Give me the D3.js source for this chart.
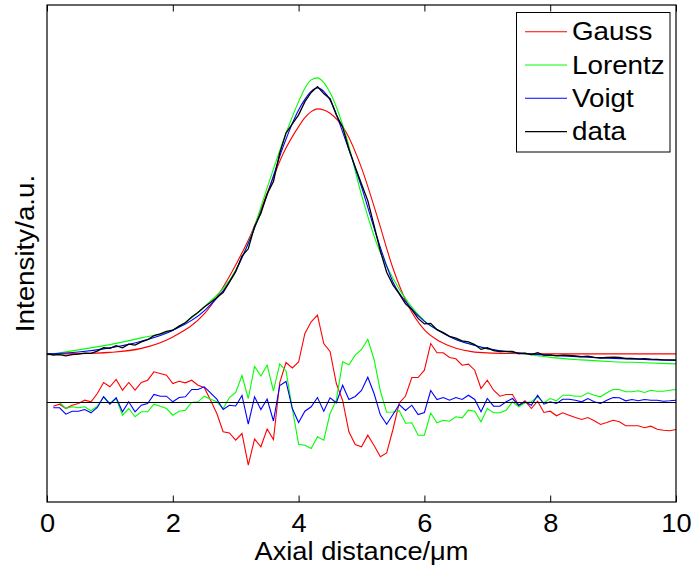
<!DOCTYPE html>
<html lang="en">
<head>
<meta charset="UTF-8">
<title>Axial intensity profile fits</title>
<script src="https://d3js.org/d3.v7.min.js"></script>
<style>
    body { margin: 0; background: #fff; }
    svg { display: block; font-family: "Liberation Sans", Arial, Helvetica, sans-serif; }
</style>
</head>
<body>
<div id="chart"></div>
<script>
// sample positions of the measured profile (µm)
const sampleX = [0, 0.1, 0.2, 0.3, 0.4, 0.5, 0.6, 0.7, 0.8, 0.9,
    1, 1.1, 1.2, 1.3, 1.4, 1.5, 1.6, 1.7, 1.8, 1.9,
    2, 2.1, 2.2, 2.3, 2.4, 2.5, 2.6, 2.7, 2.8, 2.9,
    3, 3.1, 3.2, 3.3, 3.4, 3.5, 3.6, 3.7, 3.8, 3.9,
    4, 4.1, 4.2, 4.3, 4.4, 4.5, 4.6, 4.7, 4.8, 4.9,
    5, 5.1, 5.2, 5.3, 5.4, 5.5, 5.6, 5.7, 5.8, 5.9,
    6, 6.1, 6.2, 6.3, 6.4, 6.5, 6.6, 6.7, 6.8, 6.9,
    7, 7.1, 7.2, 7.3, 7.4, 7.5, 7.6, 7.7, 7.8, 7.9,
    8, 8.1, 8.2, 8.3, 8.4, 8.5, 8.6, 8.7, 8.8, 8.9,
    9, 9.1, 9.2, 9.3, 9.4, 9.5, 9.6, 9.7, 9.8, 9.9, 10];

// measured intensity (a.u.)
const dataY = [48.6, 47.5, 47.8, 46.6, 47.8, 48.3, 49.4, 49.2, 51.4, 54.9,
    54.2, 56.9, 54.6, 58.4, 57.4, 60.6, 62.8, 66.9, 68.7, 71.2,
    72.3, 76.4, 79.8, 85.5, 89.9, 95.5, 100.0, 104.9, 109.9, 120.4,
    130.7, 146.4, 153.7, 176.0, 188.9, 208.5, 221.0, 249.4, 269.4, 278.6,
    287.6, 300.9, 310.0, 315.9, 308.9, 303.8, 287.5, 275.4, 253.4, 235.6,
    218.6, 201.9, 176.9, 151.5, 130.2, 117.6, 108.6, 98.6, 92.9, 84.1,
    78.6, 79.1, 72.9, 69.9, 66.2, 64.4, 61.7, 60.7, 57.9, 53.1,
    54.9, 51.8, 50.8, 51.1, 51.2, 48.9, 49.3, 47.9, 49.9, 47.3,
    47.5, 46.7, 47.3, 47.0, 46.5, 45.8, 46.3, 45.2, 44.5, 45.0,
    45.4, 45.0, 44.0, 44.2, 43.6, 43.8, 43.4, 43.2, 42.7, 42.6, 42.6];

// fitted curves, read at these positions
const fitX = [0, 0.5, 1, 1.5, 2, 2.5, 3, 3.25, 3.5, 3.75, 4, 4.1, 4.2, 4.3, 4.4, 4.5,
    4.75, 5, 5.25, 5.5, 5.75, 6, 6.25, 6.5, 6.75, 7, 7.5, 8, 8.5, 9, 9.5, 10];
const gaussY = [48.6, 48.9, 50.1, 54.1, 65.6, 88.6, 137.6, 169.3, 209.3, 248.3, 275.9, 284.9, 290.9, 293.6, 292.6, 289.3,
    270.9, 234.6, 185.9, 134.3, 95.9, 72.6, 60.9, 54.3, 50.9, 49.6, 48.9, 48.6, 48.6, 48.6, 48.6, 48.6];
const lorentzY = [47.6, 52.6, 57.9, 64.6, 72.6, 95.6, 132.6, 167.6, 214.6, 260.9, 300.9, 314.3, 322.6, 324.6, 319.9, 309.9,
    267.6, 207.6, 157.6, 124.3, 99.3, 81.6, 71.1, 63.1, 58.1, 53.6, 49.3, 45.1, 42.6, 40.8, 39.8, 38.6];
const voigtY = [48.6, 50.5, 54.6, 61.3, 72.1, 91.6, 131.6, 166.6, 207.6, 255.1, 292.6, 303.1, 311.1, 314.6, 311.1, 302.6,
    261.6, 215.6, 164.6, 120.6, 97.1, 81.1, 71.1, 63.1, 58.0, 53.9, 49.6, 47.3, 45.6, 44.1, 43.0, 42.0];

// residuals (scaled), first sample has none
const residGauss = [null, -3.7, -1.7, -6, -2.7, -1, 2.3, 0.7, 9, 20, 15.7,
    23, 12.3, 20, 12.3, 20, 22.3, 30.7, 29, 27.3, 19,
    21.3, 19.7, 22.3, 17.3, 15, 2.3, -11, -29.3, -30.5, -37.7,
    -31, -62.7, -36.5, -44.3, -26.5, -37, 20, 40, 34.5, 40.5,
    69, 80.7, 87.3, 59, 51, 19, 2, -29.3, -42, -44.3,
    -32.7, -43, -54.3, -50.5, -27, -0.5, 6.5, 25, 25, 32.3,
    59, 49.7, 49.7, 45, 43.7, 37.3, 38.3, 32.3, 14, 22.3,
    12.3, 6.3, 8, 8, -2.7, 1.7, -6, 1.3, -10, -8.7,
    -13.3, -10.3, -12.7, -15, -17, -15, -18.3, -22, -20, -17.7,
    -19.3, -23.3, -23.3, -23.3, -25.3, -23.7, -26.7, -27.7, -28.3, -27];
const residLorentz = [null, 0, 0, -6, -4.3, -5.3, -4.3, -8.3, -3.7, 5.7, -1,
    4, -12.7, -6, -14.3, -9.3, -9.3, -1.7, -3.7, -6, -12.7,
    -8.7, -7.7, 0, 0.7, 6.3, 3.3, 0.7, -6, 5, 10,
    27, 4, 36, 26.5, 37.3, 11.5, 38.7, 31.5, -6, -41.7,
    -42.7, -46, -34.3, -37.7, -11, 2.3, 40.7, 37.8, 47.3, 53,
    63.2, 43, 11.5, -9.8, -9.5, -8.2, -20.7, -20.3, -32.7, -32.7,
    -10.5, -20.3, -17.7, -18.7, -14.3, -15.3, -7.7, -8.7, -19.3, -6,
    -10.3, -10.3, -7.7, 0.7, -4.3, -0.3, 0.7, 5.7, -0.3, 4,
    1.7, 7.3, 7.3, 6.3, 6.3, 9.7, 7.3, 5.7, 9.7, 13,
    13, 10.7, 10.7, 11.7, 10, 12.3, 11.3, 11.3, 12.3, 13];
const residVoigt = [null, -5.3, -5.3, -11.7, -8.7, -8.7, -7, -10.3, -5, 5.7, -1.7,
    4.7, -9.3, 0.7, -9.3, -2.7, -1, 8, 6.3, 6.3, 0.7,
    5, 5.7, 13, 13, 15.7, 9.7, 3.3, -7, -2.7, -3.5,
    7, -21.7, 5.7, -7, 3.5, -18.5, 17, 21, -6, -20,
    -8.7, -4.3, 5, -8.7, 4.7, -0.3, 17.3, 3, 6, 12,
    25.3, 9, -12.3, -21.7, -12, -2, -8, -2.7, -12, -10,
    12, 3, 5, 2.3, 5, 3, 7.3, 3, -9.3, 4,
    -3.7, -3.7, 0.7, 4, -2.7, 0.7, -2.7, 7.3, -1.7, 0.7,
    -1, 3.3, 3.3, 2.3, 0.7, 4, 0.7, -1, 2.3, 5,
    4.7, 1.7, 3, 1.7, 3, 2.3, 2.3, 1.3, 1.7, 2.3];

const xTicks = [0, 2, 4, 6, 8, 10];
const legendNames = ["Gauss", "Lorentz", "Voigt", "data"];
const legendColors = ["#ff0000", "#00ff00", "#0000ff", "#000000"];

const W = 694, H = 567;
const margin = {top: 5, right: 18, bottom: 65, left: 47};
const fontSize = 25.5;
const tickFont = 25;
const stretch = "scale(1.09,1)";

const svg = d3.select("#chart").append("svg")
    .attr("width", W)
    .attr("height", H);

const x = d3.scaleLinear().domain([0, 10]).range([margin.left, W - margin.right]);
const y = d3.scaleLinear().domain([-99.5, 397.5]).range([H - margin.bottom, margin.top]);

const plot = svg.append("g");

function drawLine(xs, ys, color, curve, width) {
    const pts = xs.map((v, i) => [v, ys[i]]);
    plot.append("path")
        .datum(pts)
        .attr("fill", "none")
        .attr("stroke", color)
        .attr("stroke-width", width)
        .attr("d", d3.line()
            .defined(d => d[1] !== null)
            .x(d => x(d[0]))
            .y(d => y(d[1]))
            .curve(curve));
}

// fits and data
drawLine(fitX, gaussY, legendColors[0], d3.curveMonotoneX, 1.1);
drawLine(fitX, lorentzY, legendColors[1], d3.curveMonotoneX, 1.1);
drawLine(fitX, voigtY, legendColors[2], d3.curveMonotoneX, 1.1);
drawLine(sampleX, dataY, legendColors[3], d3.curveLinear, 1.3);

// residuals
drawLine(sampleX, residGauss, legendColors[0], d3.curveLinear, 1.1);
drawLine(sampleX, residLorentz, legendColors[1], d3.curveLinear, 1.1);
drawLine(sampleX, residVoigt, legendColors[2], d3.curveLinear, 1.1);

// zero line of residuals
plot.append("line")
    .attr("x1", x(0)).attr("x2", x(10))
    .attr("y1", y(0)).attr("y2", y(0))
    .attr("stroke", "#000")
    .attr("stroke-width", 1.2);

// axes box
svg.append("rect")
    .attr("x", margin.left)
    .attr("y", margin.top)
    .attr("width", W - margin.left - margin.right)
    .attr("height", H - margin.top - margin.bottom)
    .attr("fill", "none")
    .attr("stroke", "#000")
    .attr("stroke-width", 1.2);

const bottomAxis = svg.append("g")
    .attr("transform", `translate(0,${H - margin.bottom})`)
    .call(d3.axisBottom(x).tickValues(xTicks).tickSize(-6.5).tickPadding(12).tickFormat(d3.format("d")));
bottomAxis.select(".domain").remove();
bottomAxis.selectAll("text")
    .attr("font-size", tickFont)
    .attr("font-family", null)
    .attr("fill", "#000")
    .attr("transform", stretch);
bottomAxis.selectAll("line").attr("stroke-width", 1);

const topAxis = svg.append("g")
    .attr("transform", `translate(0,${margin.top})`)
    .call(d3.axisTop(x).tickValues(xTicks).tickSize(-6.5).tickFormat(""));
topAxis.select(".domain").remove();

svg.selectAll(".tick line").attr("stroke", "#000");

// axis titles
svg.append("text")
    .attr("transform", `translate(${(x(0) + x(10)) / 2},559.5) ${stretch}`)
    .attr("text-anchor", "middle")
    .attr("font-size", tickFont)
    .text("Axial distance/μm");

svg.append("text")
    .attr("transform", `translate(33.5,${(y.range()[0] + y.range()[1]) / 2}) rotate(-90) ${stretch}`)
    .attr("text-anchor", "middle")
    .attr("font-size", fontSize)
    .text("Intensity/a.u.");

// legend
const legend = svg.append("g");
legend.append("rect")
    .attr("x", 516.5).attr("y", 12.5)
    .attr("width", 153.5).attr("height", 139.5)
    .attr("fill", "#fff")
    .attr("stroke", "#000")
    .attr("stroke-width", 1);

legendNames.forEach((name, i) => {
    const ly = 31.7 + i * 33.3;
    legend.append("line")
        .attr("x1", 525).attr("x2", 567)
        .attr("y1", ly).attr("y2", ly)
        .attr("stroke", legendColors[i])
        .attr("stroke-width", 1.1);
    legend.append("text")
        .attr("transform", `translate(572,${ly + 8.5}) ${stretch}`)
        .attr("font-size", fontSize)
        .text(name);
});
</script>
</body>
</html>
